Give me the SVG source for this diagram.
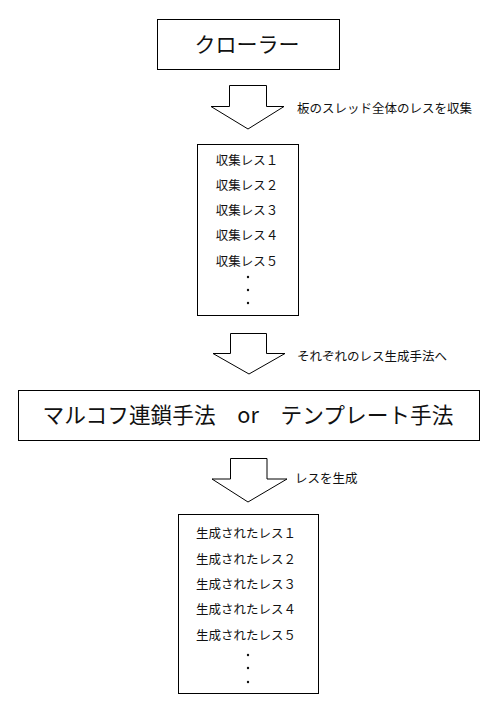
<svg xmlns="http://www.w3.org/2000/svg" width="500" height="715" viewBox="0 0 500 715">
<style>
.box{fill:#fff;stroke:#000;stroke-width:1}
.arrow{fill:#fff;stroke:#000;stroke-width:1;stroke-linejoin:miter}
text{font-family:"Noto Sans CJK JP","Noto Sans",sans-serif;fill:#111}
.t{font-size:12.5px}
.m{text-anchor:middle}
.big{font-size:21px;text-anchor:middle}
.big2{font-size:21.7px;text-anchor:middle}
.dot{fill:#111}
</style>
<rect width="500" height="715" fill="#fff"/>
<g id="crawler">
<rect class="box" x="157.5" y="19.5" width="182" height="50"/>
<text class="big" x="247" y="52">クローラー</text>
</g>
<g id="collected">
<rect class="box" x="197.5" y="144.5" width="101" height="171"/>
<text class="t m" x="247" y="165">収集レス１</text>
<text class="t m" x="247" y="190">収集レス２</text>
<text class="t m" x="247" y="215">収集レス３</text>
<text class="t m" x="247" y="240">収集レス４</text>
<text class="t m" x="247" y="266">収集レス５</text>
<circle class="dot" cx="248" cy="277" r="1.2"/>
<circle class="dot" cx="248" cy="290" r="1.2"/>
<circle class="dot" cx="248" cy="303" r="1.2"/>
</g>
<g id="method">
<rect class="box" x="18.5" y="390.5" width="461" height="50"/>
<text class="big2" x="248" y="423">マルコフ連鎖手法　or　テンプレート手法</text>
</g>
<g id="generated">
<rect class="box" x="178.5" y="514.5" width="140" height="179"/>
<text class="t m" x="246" y="538">生成されたレス１</text>
<text class="t m" x="246" y="564">生成されたレス２</text>
<text class="t m" x="246" y="589">生成されたレス３</text>
<text class="t m" x="246" y="614">生成されたレス４</text>
<text class="t m" x="246" y="640">生成されたレス５</text>
<circle class="dot" cx="248" cy="655" r="1.2"/>
<circle class="dot" cx="248" cy="668" r="1.2"/>
<circle class="dot" cx="248" cy="682" r="1.2"/>
</g>
<g id="connectors">
<path class="arrow" d="M229.5,85.5 H266.5 V106.5 H284 L248,129 L211,106.5 H229.5 Z"/>
<text class="t" x="297" y="113">板のスレッド全体のレスを収集</text>
<path class="arrow" d="M230.5,333.5 H266.5 V353.5 H285 L249,374 L213,353.5 H230.5 Z"/>
<text class="t" x="297" y="361">それぞれのレス生成手法へ</text>
<path class="arrow" d="M230.5,458.5 H267 V479 H287 L248,502 L212,479 H230.5 Z"/>
<text class="t" x="295" y="483">レスを生成</text>
</g>
</svg>
